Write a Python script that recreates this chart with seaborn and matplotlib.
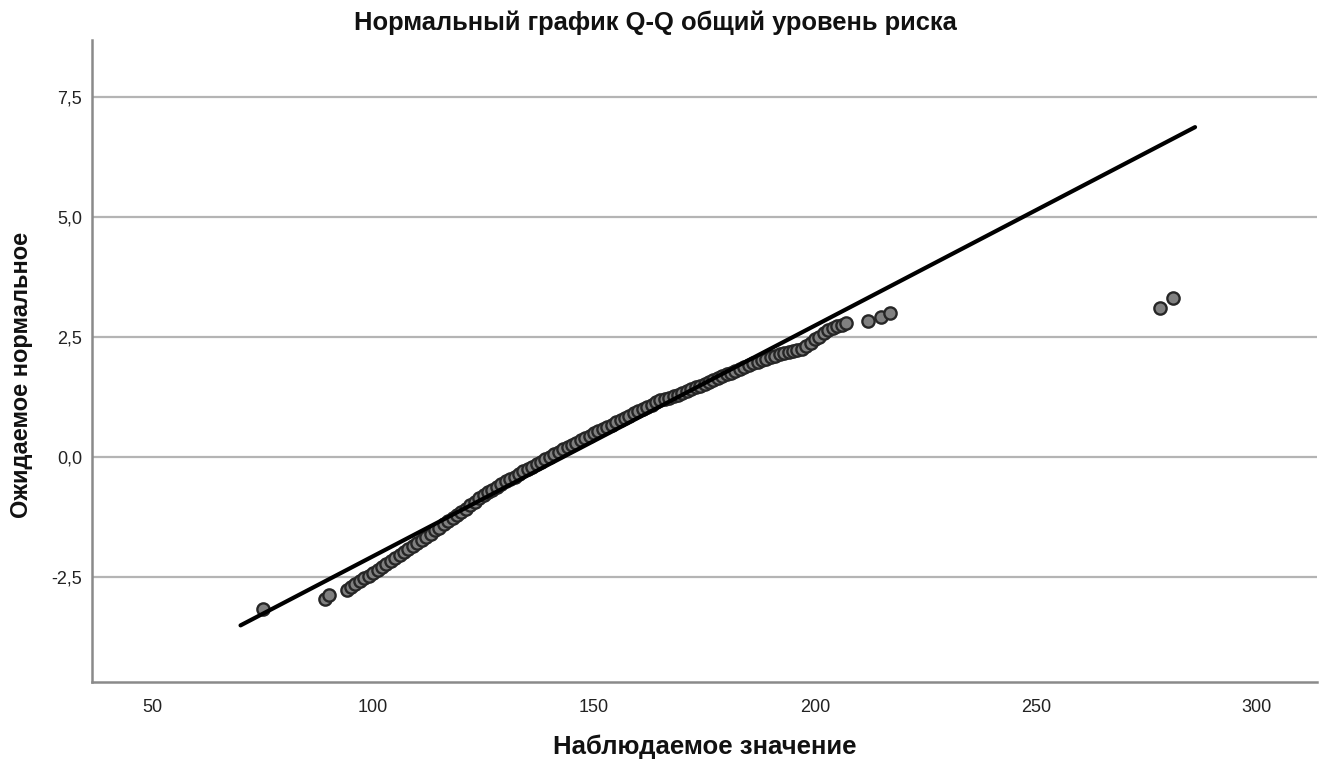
import numpy as np
import pandas as pd
import matplotlib
matplotlib.use("Agg")
import matplotlib.pyplot as plt
import seaborn as sns

# Observed values (total risk score) and their expected normal quantiles
observed = [75, 89, 90] + list(range(94, 208)) + [212, 215, 217, 278, 281]
expected = [
    -3.17, -2.96, -2.88,
    -2.77, -2.71, -2.65, -2.59, -2.53, -2.47, -2.41, -2.35, -2.29, -2.23,
    -2.17, -2.10, -2.04, -1.98, -1.92, -1.86, -1.79, -1.73, -1.66, -1.60,
    -1.53, -1.47, -1.40, -1.34, -1.27, -1.21, -1.14, -1.08, -1.01, -0.94,
    -0.86, -0.79, -0.73, -0.68, -0.62, -0.56, -0.51, -0.46, -0.41, -0.36,
    -0.30, -0.25, -0.20, -0.15, -0.10, -0.05, 0.00, 0.06, 0.11, 0.16,
    0.21, 0.26, 0.30, 0.35, 0.40, 0.44, 0.49, 0.54, 0.58, 0.63,
    0.67, 0.72, 0.77, 0.81, 0.86, 0.91, 0.95, 1.00, 1.05, 1.09,
    1.14, 1.19, 1.21, 1.23, 1.27, 1.30, 1.34, 1.38, 1.41, 1.45,
    1.49, 1.52, 1.56, 1.60, 1.64, 1.68, 1.72, 1.76, 1.80, 1.84,
    1.88, 1.92, 1.96, 1.99, 2.02, 2.05, 2.08, 2.11, 2.14, 2.17,
    2.19, 2.21, 2.23, 2.25, 2.31, 2.38, 2.45, 2.51, 2.58, 2.65,
    2.69, 2.72, 2.76, 2.79,
    2.83, 2.92, 3.00, 3.10, 3.31,
]

# Reference normal line: mean and standard deviation of the sample
mean_score = 143.0
sd_score = 20.8
line_x = [70, 286]
line_y = [(v - mean_score) / sd_score for v in line_x]

x_ticks = [50, 100, 150, 200, 250, 300]
y_ticks = [-2.5, 0.0, 2.5, 5.0, 7.5]
y_tick_labels = ["-2,5", "0,0", "2,5", "5,0", "7,5"]

title = "Нормальный график Q-Q общий уровень риска"
x_label = "Наблюдаемое значение"
y_label = "Ожидаемое нормальное"

sns.set_style("white")
plt.rcParams["font.family"] = ["Liberation Sans", "DejaVu Sans"]

points = pd.DataFrame({"observed": observed, "expected": expected})
ref = pd.DataFrame({"x": line_x, "y": line_y})

fig = plt.figure(figsize=(13.19, 7.60), dpi=100)
ax = fig.add_axes([0.0698, 0.1026, 0.9287, 0.8447])

for yt in y_ticks:
    ax.axhline(yt, color="#b4b4b4", lw=1.6, zorder=0)

sns.scatterplot(data=points, x="observed", y="expected", ax=ax, s=78,
                color="#808080", edgecolor="#262626", linewidth=1.7, zorder=3)
sns.lineplot(data=ref, x="x", y="y", ax=ax, color="black", lw=3.0, zorder=4)

ax.set_xlim(36.4, 313.6)
ax.set_ylim(-4.69, 8.69)
ax.set_xticks(x_ticks)
ax.set_xticklabels([str(t) for t in x_ticks])
ax.set_yticks(y_ticks)
ax.set_yticklabels(y_tick_labels)
ax.tick_params(axis="both", length=0, labelsize=13, colors="#222222")
ax.tick_params(axis="x", pad=12)
ax.tick_params(axis="y", pad=7)
ax.set_xlabel("")
ax.set_ylabel("")

for side in ["top", "right"]:
    ax.spines[side].set_visible(False)
for side in ["left", "bottom"]:
    ax.spines[side].set_color("#8a8a8a")
    ax.spines[side].set_linewidth(1.8)

fig.text(705 / 1319, 1 - 747 / 760, x_label, fontsize=18.5, fontweight="bold",
         ha="center", va="center", color="#111111")
fig.text(22 / 1319, 1 - 375 / 760, y_label, fontsize=17, fontweight="bold",
         ha="center", va="center", rotation=90, color="#111111")
fig.text(655 / 1319, 1 - 23 / 760, title, fontsize=18.4, fontweight="bold",
         ha="center", va="center", color="#111111")

fig.savefig("out.png", dpi=100)
